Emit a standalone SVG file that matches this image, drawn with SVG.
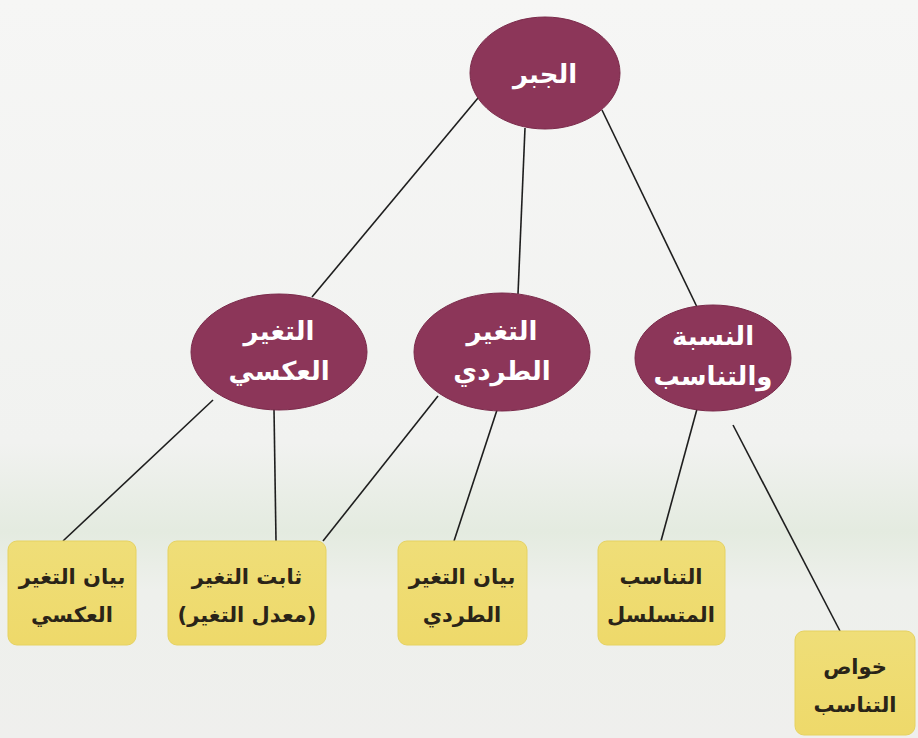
<svg xmlns="http://www.w3.org/2000/svg" width="918" height="738" viewBox="0 0 918 738">
<defs>
<linearGradient id="bg" x1="0" y1="0" x2="0" y2="1">
<stop offset="0" stop-color="#f6f6f5"/>
<stop offset="0.6" stop-color="#f1f2f0"/>
<stop offset="0.72" stop-color="#e4ebe0"/>
<stop offset="0.8" stop-color="#eef0ec"/>
<stop offset="1" stop-color="#efefed"/>
</linearGradient>
<linearGradient id="box" x1="0" y1="0" x2="0" y2="1">
<stop offset="0" stop-color="#efde78"/>
<stop offset="1" stop-color="#eed96a"/>
</linearGradient>
</defs>
<style>
.ell{fill:#8c3659;stroke:#7a2a4a;stroke-width:1}
.box{fill:url(#box);stroke:#e6d260;stroke-width:1}
.et{font-family:"DejaVu Sans",sans-serif;font-size:26px;font-weight:bold;fill:#ffffff;text-anchor:middle;direction:rtl;unicode-bidi:embed}
.bt{font-family:"DejaVu Sans",sans-serif;font-size:21px;font-weight:bold;fill:#2a2418;text-anchor:middle;direction:rtl;unicode-bidi:embed}
.ln{stroke:#1e1e1e;stroke-width:1.6;fill:none}
</style>
<rect width="918" height="738" fill="url(#bg)"/>
<g id="connectors">
<line class="ln" x1="478" y1="98" x2="312" y2="297"/>
<line class="ln" x1="525" y1="128" x2="518" y2="294"/>
<line class="ln" x1="602" y1="110" x2="697" y2="307"/>
<line class="ln" x1="213" y1="400" x2="63" y2="541"/>
<line class="ln" x1="274" y1="409" x2="276" y2="541"/>
<line class="ln" x1="438" y1="396" x2="323" y2="541"/>
<line class="ln" x1="497" y1="410" x2="454" y2="541"/>
<line class="ln" x1="697" y1="409" x2="661" y2="541"/>
<line class="ln" x1="733" y1="425" x2="840" y2="631"/>
</g>
<g id="root">
<ellipse class="ell" cx="545" cy="73" rx="75" ry="56"/>
<text class="et" x="545" y="83">الجبر</text>
</g>
<g id="inverse">
<ellipse class="ell" cx="279" cy="352" rx="88" ry="58"/>
<text class="et" x="279" y="340">التغير</text>
<text class="et" x="279" y="380">العكسي</text>
</g>
<g id="direct">
<ellipse class="ell" cx="502" cy="352" rx="88" ry="59"/>
<text class="et" x="502" y="340">التغير</text>
<text class="et" x="502" y="380">الطردي</text>
</g>
<g id="ratio">
<ellipse class="ell" cx="713" cy="358" rx="78" ry="53"/>
<text class="et" x="713" y="345">النسبة</text>
<text class="et" x="713" y="385">والتناسب</text>
</g>
<g id="inverseGraph">
<rect class="box" x="8" y="541" width="128" height="104" rx="9"/>
<text class="bt" x="72" y="584">بيان التغير</text>
<text class="bt" x="72" y="622">العكسي</text>
</g>
<g id="constant">
<rect class="box" x="168" y="541" width="158" height="104" rx="9"/>
<text class="bt" x="247" y="584">ثابت التغير</text>
<text class="bt" x="247" y="622">(معدل التغير)</text>
</g>
<g id="directGraph">
<rect class="box" x="398" y="541" width="129" height="104" rx="9"/>
<text class="bt" x="462" y="584">بيان التغير</text>
<text class="bt" x="462" y="622">الطردي</text>
</g>
<g id="continued">
<rect class="box" x="598" y="541" width="127" height="104" rx="9"/>
<text class="bt" x="661" y="584">التناسب</text>
<text class="bt" x="661" y="622">المتسلسل</text>
</g>
<g id="properties">
<rect class="box" x="795" y="631" width="120" height="104" rx="9"/>
<text class="bt" x="855" y="674">خواص</text>
<text class="bt" x="855" y="712">التناسب</text>
</g>
</svg>
